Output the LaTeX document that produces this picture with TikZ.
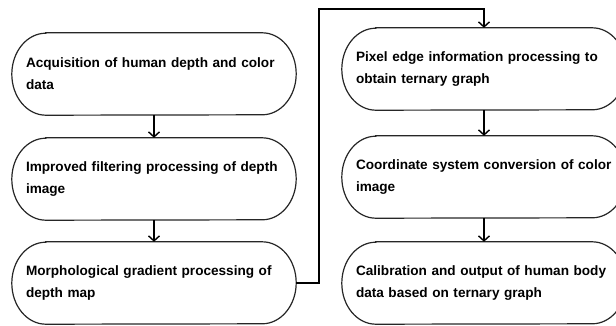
\documentclass[tikz,border=0pt]{standalone}
\usepackage{fontspec}
\setmainfont{Liberation Sans}
\usepackage{tikz}
\usetikzlibrary{arrows.meta}
\usetikzlibrary{calc}
\tikzstyle{stepbox}=[text width=256pt, minimum width=284pt, minimum height=82pt,% text only, the outline comes later
inner xsep=14pt, align=left, font=\bfseries\fontsize{13.6}{22}\selectfont]
\tikzstyle{flow}=[-{Straight Barb[length=5pt,width=11pt]}, line width=1.4pt]
\tikzstyle{outline}=[line width=1.2pt, draw=black!85]

\begin{document}
\begin{tikzpicture}[x=1pt,y=1pt]
\useasboundingbox (0,0) rectangle (616,325);
\clip (0,0) rectangle (616,325);
\node[stepbox] (acq) at (154,251) {Acquisition of human depth and color\\data};
\node[stepbox] (filt) at (154,146) {Improved filtering processing of depth\\image};
\node[stepbox] (morph) at (154,42) {Morphological gradient processing of\\depth map};
\node[stepbox] (pix) at (484,256) {Pixel edge information processing to\\obtain ternary graph};
\node[stepbox] (conv) at (484,148) {Coordinate system conversion of color\\image};
\node[stepbox] (calib) at (484,42) {Calibration and output of human body\\data based on ternary graph};
\foreach \n in {acq,filt,morph,pix,conv,calib}
  \draw[outline] ($(\n.north west)+(34,0)$) -- ($(\n.north east)+(-34,0)$)
    arc[start angle=90,end angle=-90,x radius=34,y radius=41]
    -- ($(\n.south west)+(34,0)$)
    arc[start angle=270,end angle=90,x radius=34,y radius=41] -- cycle;
\coordinate (turn) at (319,316);
\draw[flow] (acq) -- (filt);
\draw[flow] (filt) -- (morph);
\draw[flow] (morph.east) -| (turn) -| (pix.north);
\draw[flow] (pix) -- (conv);
\draw[flow] (conv) -- (calib);
\end{tikzpicture}
\end{document}
